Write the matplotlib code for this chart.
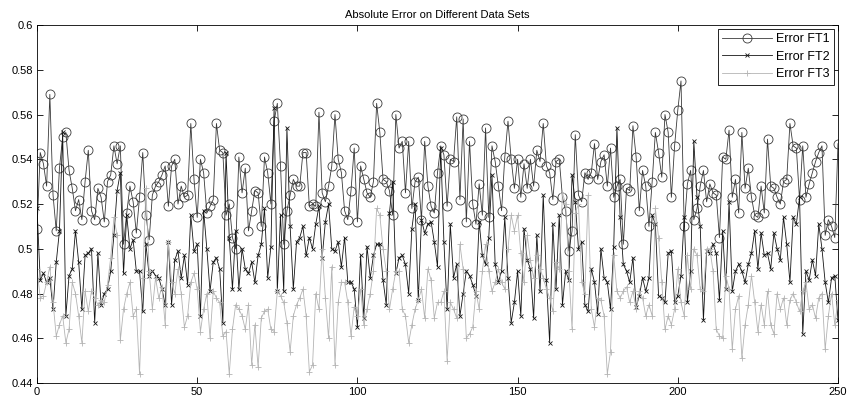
import numpy as np
import matplotlib
matplotlib.use("Agg")
import matplotlib.pyplot as plt

plt.rcParams['font.family'] = ['Liberation Sans', 'DejaVu Sans']

# absolute error per data set (x = 0..250)
ft1 = [0.509, 0.543, 0.538, 0.528, 0.569, 0.524, 0.508, 0.536, 0.550, 0.552, 0.535, 0.527, 0.517, 0.522, 0.513, 0.530, 0.544, 0.517, 0.513, 0.527, 0.523, 0.512,
       0.530, 0.533, 0.546, 0.538, 0.546, 0.502, 0.516, 0.528, 0.521, 0.507, 0.523, 0.543, 0.515, 0.504, 0.524, 0.528, 0.530, 0.533, 0.537, 0.519, 0.537, 0.540,
       0.520, 0.528, 0.523, 0.524, 0.556, 0.531, 0.514, 0.540, 0.534, 0.516, 0.519, 0.522, 0.556, 0.544, 0.543, 0.515, 0.520, 0.505, 0.500, 0.541, 0.525,
       0.536, 0.508, 0.517, 0.526, 0.525, 0.510, 0.541, 0.534, 0.520, 0.557, 0.565, 0.537, 0.502, 0.517, 0.524, 0.531, 0.528, 0.528, 0.543, 0.543, 0.519,
       0.520, 0.519, 0.561, 0.525, 0.521, 0.528, 0.537, 0.560, 0.540, 0.534, 0.517, 0.513, 0.526, 0.545, 0.512, 0.537, 0.531, 0.525, 0.523, 0.530, 0.565,
       0.552, 0.531, 0.530, 0.526, 0.515, 0.560, 0.545, 0.548, 0.525, 0.548, 0.518, 0.530, 0.532, 0.513, 0.548, 0.528, 0.519, 0.516, 0.534, 0.546, 0.542,
       0.519, 0.540, 0.539, 0.559, 0.522, 0.558, 0.512, 0.548, 0.520, 0.511, 0.529, 0.515, 0.554, 0.514, 0.546, 0.539, 0.528, 0.517, 0.541, 0.557, 0.540,
       0.527, 0.540, 0.523, 0.538, 0.527, 0.540, 0.528, 0.544, 0.539, 0.556, 0.537, 0.534, 0.522, 0.539, 0.540, 0.523, 0.517, 0.499, 0.508, 0.551, 0.524,
       0.521, 0.534, 0.531, 0.534, 0.547, 0.531, 0.539, 0.542, 0.528, 0.545, 0.523, 0.528, 0.531, 0.502, 0.527, 0.526, 0.555, 0.541, 0.517, 0.535, 0.528,
       0.510, 0.530, 0.552, 0.543, 0.532, 0.560, 0.552, 0.523, 0.546, 0.562, 0.575, 0.510, 0.529, 0.535, 0.513, 0.518, 0.528, 0.535, 0.521, 0.529, 0.525,
       0.524, 0.505, 0.541, 0.540, 0.553, 0.523, 0.531, 0.516, 0.552, 0.527, 0.536, 0.523, 0.515, 0.514, 0.528, 0.516, 0.549, 0.528, 0.527, 0.523, 0.520,
       0.530, 0.531, 0.556, 0.546, 0.545, 0.522, 0.546, 0.523, 0.529, 0.534, 0.539, 0.543, 0.546, 0.506, 0.513, 0.510, 0.505, 0.547]

ft2 = [0.518, 0.486, 0.489, 0.485, 0.487, 0.473, 0.494, 0.508, 0.552, 0.470, 0.488, 0.491, 0.508, 0.494, 0.473, 0.497, 0.498, 0.500, 0.467, 0.498, 0.475, 0.480,
       0.482, 0.490, 0.506, 0.526, 0.534, 0.489, 0.515, 0.500, 0.504, 0.490, 0.490, 0.472, 0.502, 0.488, 0.490, 0.488, 0.487, 0.482, 0.475, 0.503, 0.475, 0.495,
       0.499, 0.487, 0.497, 0.484, 0.515, 0.499, 0.502, 0.470, 0.517, 0.500, 0.481, 0.494, 0.496, 0.491, 0.467, 0.543, 0.505, 0.482, 0.508, 0.482, 0.500,
       0.491, 0.489, 0.494, 0.485, 0.497, 0.502, 0.518, 0.487, 0.501, 0.563, 0.481, 0.515, 0.481, 0.554, 0.510, 0.482, 0.503, 0.505, 0.510, 0.497, 0.505,
       0.500, 0.511, 0.519, 0.496, 0.512, 0.520, 0.500, 0.499, 0.503, 0.492, 0.505, 0.485, 0.485, 0.482, 0.465, 0.497, 0.469, 0.501, 0.487, 0.497, 0.502,
       0.502, 0.486, 0.475, 0.516, 0.530, 0.489, 0.496, 0.497, 0.493, 0.480, 0.509, 0.520, 0.477, 0.513, 0.507, 0.511, 0.512, 0.503, 0.492, 0.545, 0.503,
       0.473, 0.511, 0.487, 0.493, 0.470, 0.480, 0.490, 0.488, 0.484, 0.479, 0.512, 0.497, 0.493, 0.505, 0.533, 0.493, 0.485, 0.490, 0.514, 0.487, 0.467,
       0.476, 0.490, 0.470, 0.509, 0.495, 0.491, 0.469, 0.506, 0.481, 0.524, 0.486, 0.458, 0.511, 0.482, 0.515, 0.475, 0.490, 0.486, 0.533, 0.521, 0.500,
       0.503, 0.475, 0.472, 0.491, 0.485, 0.471, 0.500, 0.487, 0.485, 0.473, 0.501, 0.554, 0.514, 0.493, 0.490, 0.485, 0.496, 0.474, 0.479, 0.487, 0.481,
       0.487, 0.515, 0.511, 0.479, 0.478, 0.476, 0.498, 0.499, 0.476, 0.479, 0.488, 0.514, 0.476, 0.490, 0.548, 0.523, 0.510, 0.468, 0.499, 0.498, 0.502,
       0.498, 0.477, 0.508, 0.482, 0.521, 0.481, 0.490, 0.493, 0.490, 0.485, 0.493, 0.498, 0.508, 0.491, 0.507, 0.497, 0.498, 0.491, 0.507, 0.500, 0.495,
       0.514, 0.502, 0.485, 0.514, 0.511, 0.523, 0.462, 0.490, 0.486, 0.495, 0.488, 0.511, 0.500, 0.485, 0.476, 0.487, 0.488, 0.468]

ft3 = [0.491, 0.478, 0.479, 0.485, 0.492, 0.476, 0.461, 0.466, 0.470, 0.458, 0.464, 0.485, 0.480, 0.470, 0.458, 0.481, 0.472, 0.481, 0.478, 0.475, 0.477, 0.476,
       0.484, 0.496, 0.514, 0.506, 0.459, 0.473, 0.480, 0.485, 0.470, 0.473, 0.444, 0.487, 0.527, 0.490, 0.473, 0.487, 0.478, 0.483, 0.466, 0.503, 0.485, 0.480,
       0.491, 0.480, 0.465, 0.470, 0.485, 0.489, 0.482, 0.463, 0.473, 0.480, 0.460, 0.481, 0.478, 0.476, 0.461, 0.463, 0.444, 0.464, 0.475, 0.473, 0.470,
       0.464, 0.475, 0.448, 0.466, 0.447, 0.469, 0.472, 0.473, 0.464, 0.463, 0.481, 0.479, 0.476, 0.467, 0.454, 0.470, 0.475, 0.478, 0.482, 0.470, 0.445,
       0.448, 0.480, 0.473, 0.500, 0.478, 0.460, 0.492, 0.448, 0.476, 0.485, 0.485, 0.476, 0.461, 0.474, 0.470, 0.482, 0.466, 0.473, 0.480, 0.490, 0.518,
       0.515, 0.500, 0.490, 0.473, 0.482, 0.490, 0.490, 0.473, 0.470, 0.458, 0.466, 0.473, 0.477, 0.482, 0.469, 0.491, 0.486, 0.469, 0.476, 0.476, 0.481,
       0.450, 0.476, 0.473, 0.469, 0.502, 0.491, 0.460, 0.462, 0.465, 0.481, 0.473, 0.490, 0.502, 0.490, 0.481, 0.485, 0.491, 0.485, 0.482, 0.500, 0.515,
       0.508, 0.515, 0.498, 0.485, 0.506, 0.495, 0.487, 0.497, 0.491, 0.487, 0.482, 0.478, 0.472, 0.494, 0.491, 0.525, 0.520, 0.490, 0.464, 0.516, 0.520,
       0.485, 0.480, 0.524, 0.473, 0.465, 0.478, 0.477, 0.470, 0.444, 0.454, 0.497, 0.481, 0.478, 0.481, 0.483, 0.476, 0.481, 0.473, 0.481, 0.478, 0.470,
       0.475, 0.470, 0.518, 0.505, 0.485, 0.464, 0.470, 0.466, 0.473, 0.491, 0.476, 0.470, 0.497, 0.482, 0.500, 0.497, 0.482, 0.481, 0.500, 0.500, 0.490,
       0.464, 0.461, 0.460, 0.488, 0.482, 0.455, 0.473, 0.479, 0.451, 0.466, 0.475, 0.488, 0.476, 0.463, 0.475, 0.466, 0.481, 0.466, 0.462, 0.480, 0.473,
       0.478, 0.466, 0.477, 0.480, 0.476, 0.472, 0.481, 0.485, 0.473, 0.475, 0.469, 0.478, 0.480, 0.455, 0.470, 0.480, 0.466, 0.477]

yticks = [0.44, 0.46, 0.48, 0.5, 0.52, 0.54, 0.56, 0.58, 0.6]
yticklabels = ['0.44', '0.46', '0.48', '0.5', '0.52', '0.54', '0.56', '0.58', '0.6']
xticks = [0, 50, 100, 150, 200, 250]


def main():
    fig = plt.figure(figsize=(8.53, 4.04), dpi=100)
    ax = fig.add_axes([0.0434, 0.052, 0.9390, 0.886])

    ax.plot(np.arange(len(ft1)), ft1, color='#3a3a3a', lw=0.6, marker='o',
            ms=6.5, mfc='none', mew=0.6, label='Error FT1')
    ax.plot(np.arange(len(ft2)), ft2, color='#151515', lw=0.6, marker='x',
            ms=3.5, mew=0.6, label='Error FT2')
    ax.plot(np.arange(len(ft3)), ft3, color='#b4b4b4', lw=0.6, marker='+',
            ms=5, mew=0.6, label='Error FT3')

    ax.set_xlim(0, 250)
    ax.set_ylim(0.44, 0.6)
    ax.set_xticks(xticks)
    ax.set_yticks(yticks)
    ax.set_yticklabels(yticklabels)
    ax.tick_params(direction='in', top=True, right=True, length=4,
                   width=0.6, labelsize=8, pad=3)
    for s in ax.spines.values():
        s.set_linewidth(0.6)

    ax.set_title('Absolute Error on Different Data Sets', fontsize=8, pad=5)

    leg = ax.legend(loc='upper right', fontsize=9, fancybox=False,
                    framealpha=1, edgecolor='black', handlelength=4.0,
                    borderaxespad=0.3, labelspacing=0.45, handletextpad=0.3,
                    borderpad=0.35)
    leg.get_frame().set_linewidth(0.6)

    fig.savefig('out.png', dpi=100)


if __name__ == "__main__":
    main()
